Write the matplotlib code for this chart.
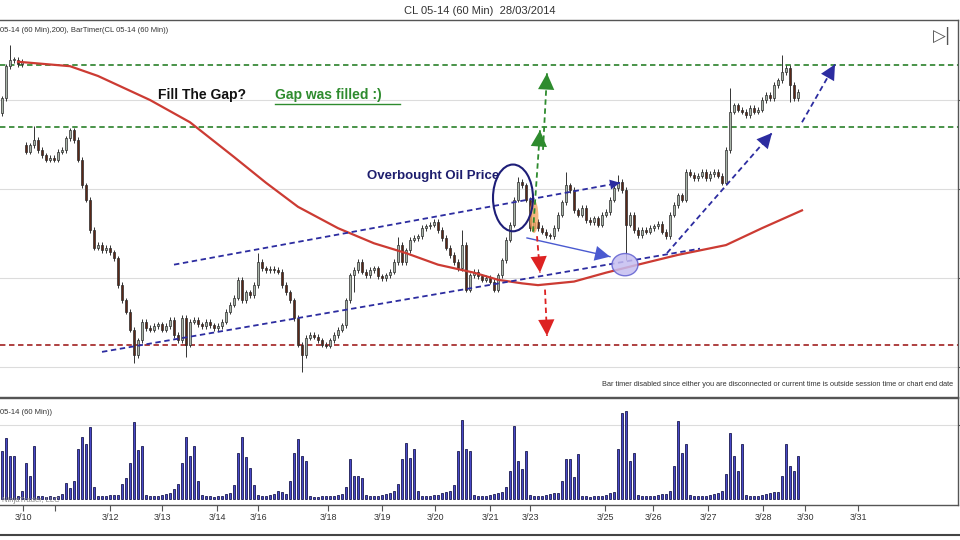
"""CL 05-14 60 min chart with gap / channel annotations"""

import numpy as np
import matplotlib
matplotlib.use('Agg')
import matplotlib.pyplot as plt
from matplotlib.patches import Ellipse
from matplotlib.lines import Line2D

plt.rcParams['font.family'] = ['Liberation Sans', 'DejaVu Sans']

# hourly closes (one value per plotted bar)
closes = [
    101.02, 101.38, 101.45, 101.45, 101.40, 101.43, 100.42, 100.49, 100.55, 100.44,
    100.38, 100.33, 100.35, 100.33, 100.42, 100.44, 100.57, 100.66, 100.55, 100.33,
    100.04, 99.88, 99.54, 99.34, 99.37, 99.31, 99.34, 99.29, 99.22, 98.92,
    98.75, 98.62, 98.42, 98.13, 98.30, 98.51, 98.44, 98.42, 98.46, 98.48,
    98.42, 98.46, 98.53, 98.36, 98.30, 98.55, 98.25, 98.51, 98.53, 98.48,
    98.46, 98.51, 98.47, 98.44, 98.46, 98.51, 98.62, 98.70, 98.78, 98.98,
    98.75, 98.84, 98.81, 98.92, 99.18, 99.11, 99.09, 99.10, 99.09, 99.07,
    98.92, 98.84, 98.75, 98.55, 98.25, 98.13, 98.33, 98.36, 98.34, 98.30,
    98.25, 98.24, 98.30, 98.36, 98.42, 98.47, 98.75, 99.03, 99.09, 99.18,
    99.07, 99.03, 99.09, 99.11, 99.02, 99.00, 99.03, 99.07, 99.18, 99.37,
    99.18, 99.31, 99.43, 99.45, 99.47, 99.56, 99.58, 99.60, 99.63, 99.54,
    99.45, 99.34, 99.26, 99.18, 99.11, 99.37, 98.87, 99.03, 99.07, 99.02,
    98.98, 99.00, 98.96, 98.87, 99.03, 99.20, 99.43, 99.60, 99.88, 100.08,
    100.04, 99.88, 99.56, 99.63, 99.56, 99.52, 99.48, 99.47, 99.56, 99.71,
    99.85, 100.04, 99.99, 99.76, 99.71, 99.79, 99.65, 99.63, 99.67, 99.60,
    99.71, 99.74, 99.88, 100.01, 100.08, 99.99, 99.60, 99.71, 99.54, 99.48,
    99.54, 99.52, 99.56, 99.58, 99.61, 99.52, 99.47, 99.71, 99.82, 99.93,
    99.88, 100.19, 100.16, 100.12, 100.15, 100.19, 100.12, 100.17, 100.19, 100.15,
    100.07, 100.44, 100.87, 100.94, 100.89, 100.87, 100.83, 100.91, 100.87, 100.89,
    101.00, 101.06, 101.02, 101.17, 101.22, 101.31, 101.36, 101.17, 101.02, 101.09,
]
# opens that do not follow the previous close (session gaps)
gap_opens = {0: 100.85, 6: 100.50}
# wick extremes that stick out
spike_highs = {2: 101.62, 8: 100.71, 64: 99.28, 99: 99.46, 115: 99.54, 129: 100.13,
               141: 100.19, 154: 100.16, 182: 101.13, 195: 101.51}
spike_lows = {33: 98.04, 46: 98.11, 75: 97.94, 88: 98.84, 123: 98.84, 156: 99.20, 197: 100.98}

# volume, hundreds of contracts
volume = [
    120, 152, 108, 108, 8, 20, 90, 58, 132, 8,
    8, 5, 8, 5, 8, 12, 40, 28, 45, 125,
    155, 138, 180, 30, 8, 8, 8, 10, 10, 10,
    38, 52, 90, 192, 122, 132, 10, 8, 8, 8,
    10, 12, 15, 25, 38, 90, 155, 108, 132, 45,
    10, 8, 8, 5, 8, 8, 12, 15, 35, 115,
    155, 105, 78, 35, 10, 8, 8, 10, 12, 20,
    18, 12, 45, 115, 150, 108, 95, 8, 5, 5,
    8, 8, 8, 8, 10, 12, 30, 100, 58, 58,
    52, 10, 8, 8, 8, 10, 12, 15, 20, 38,
    100, 140, 102, 125, 20, 8, 8, 8, 10, 10,
    15, 18, 20, 35, 120, 198, 125, 120, 10, 8,
    8, 8, 10, 12, 15, 18, 30, 70, 182, 95,
    75, 120, 10, 8, 8, 8, 10, 12, 15, 15,
    45, 100, 100, 55, 112, 8, 8, 5, 8, 8,
    8, 10, 15, 18, 125, 215, 220, 95, 115, 10,
    8, 8, 8, 8, 10, 12, 12, 20, 82, 195,
    115, 138, 10, 8, 8, 8, 8, 10, 12, 15,
    20, 62, 165, 108, 70, 138, 10, 8, 8, 8,
    10, 12, 15, 18, 18, 58, 138, 82, 70, 108,
]

# SMA(200)
ma_bars = [4, 17, 24, 37, 47, 58, 66, 74, 84, 93, 101, 109, 118, 124, 130, 134,
           143, 151, 159, 169, 181, 190, 200]
ma_vals = [101.43, 101.38, 101.27, 101.00, 100.75, 100.36, 100.07, 99.80, 99.56, 99.39,
           99.28, 99.15, 99.06, 98.98, 98.94, 98.92, 98.96, 99.06, 99.15, 99.26,
           99.37, 99.56, 99.76]

tick_bars = [5.25, 13.25, 27, 40, 53.75, 64, 81.5, 95, 108.25, 122, 132, 150.75,
             162.75, 176.5, 190.25, 200.75, 214]
tick_labels = ['3/10', '', '3/12', '3/13', '3/14', '3/16', '3/18', '3/19', '3/20',
               '3/21', '3/23', '3/25', '3/26', '3/27', '3/28', '3/30', '3/31']

gap_top, gap_bottom, support = 101.39, 100.70, 98.25
price_grid = [98, 99, 100, 101]

# ---- build OHLC ----
c = np.array(closes)
x = np.arange(len(c))
o = np.r_[c[0], c[:-1]]
for k, v in gap_opens.items():
    o[k] = v
wick = 0.03
h = np.maximum(o, c) + wick
l = np.minimum(o, c) - wick
for k, v in spike_highs.items():
    h[k] = v
for k, v in spike_lows.items():
    l[k] = v
up = c >= o

fig = plt.figure(figsize=(9.6, 5.4), dpi=100)
ax = fig.add_axes([0, 1 - 397 / 540, 958 / 960, 377 / 540])
axv = fig.add_axes([0, 1 - 505 / 540, 958 / 960, 107 / 540], sharex=ax)

edge = '#555555'
for a in (ax, axv):
    a.spines['left'].set_visible(False)
    for s in ('top', 'right', 'bottom'):
        a.spines[s].set_color(edge)
        a.spines[s].set_linewidth(1.0)
    a.set_facecolor('white')

# ---- price panel ----
ax.set_xlim(-0.5, 239)
ax.set_ylim(97.663, 101.899)
ax.set_yticks(price_grid)
ax.yaxis.tick_right()
ax.tick_params(axis='y', direction='out', length=4, color=edge, labelright=False)
ax.tick_params(axis='x', bottom=False, labelbottom=False)
ax.grid(axis='y', color='#dcdcdc', lw=0.8)
ax.set_axisbelow(True)

ax.axhline(gap_top, color='#3a8a3a', ls=(0, (3, 2)), lw=1.3, zorder=1)
ax.axhline(gap_bottom, color='#3a8a3a', ls=(0, (3, 2)), lw=1.3, zorder=1)
ax.axhline(support, color='#a83232', ls=(0, (3, 2)), lw=1.3, zorder=1)

ax.vlines(x, l, h, color='#333333', lw=0.7, zorder=3)
body_h = np.maximum(np.abs(c - o), 0.01)
ax.bar(x[up], body_h[up], bottom=np.minimum(o, c)[up], width=0.66,
       color='#a9b5a9', edgecolor='#2b2b2b', lw=0.5, zorder=4)
ax.bar(x[~up], body_h[~up], bottom=np.minimum(o, c)[~up], width=0.66,
       color='#5a2818', edgecolor='#2b2b2b', lw=0.5, zorder=4)

ax.plot(ma_bars, ma_vals, color='#cc3b33', lw=1.6, zorder=5)

blue = '#2c2ca0'


def dash_arrow(p0, p1, color, head=12, ls=(0, (3, 2)), lw=1.3):
    ax.plot([p0[0], p1[0]], [p0[1], p1[1]], ls=ls, color=color, lw=lw, zorder=6)
    back = (p1[0] - (p1[0] - p0[0]) * 0.25, p1[1] - (p1[1] - p0[1]) * 0.25)
    ax.annotate('', xy=p1, xytext=back,
                arrowprops=dict(arrowstyle='-|>,head_length=0.9,head_width=0.45',
                                color=color, lw=0, shrinkA=0, shrinkB=0,
                                mutation_scale=head), zorder=7)


# channel and projections
dash_arrow((43, 99.15), (154.5, 100.07), blue, head=8)
ax.plot([25, 174.5], [98.17, 99.33], ls=(0, (3, 2)), color=blue, lw=1.3, zorder=6)
dash_arrow((131.25, 99.45), (152, 99.24), '#4a5ad0', head=12, ls='-', lw=1.0)
dash_arrow((166.25, 99.28), (192.5, 100.63), blue, head=12)
dash_arrow((200, 100.75), (208.25, 101.40), blue, head=12)

dash_arrow((132.75, 99.52), (134.5, 100.66), '#2e8b2e', head=13)
dash_arrow((135.25, 100.44), (136.25, 101.30), '#2e8b2e', head=13)
dash_arrow((133.75, 99.47), (134.5, 99.06), '#dd2222', head=13)
dash_arrow((135.75, 98.87), (136.25, 98.35), '#dd2222', head=13)

ax.add_patch(Ellipse((127.75, 99.90), 10, 0.75, fill=False, ec='#1e1e78', lw=1.5, zorder=8))
ax.add_patch(Ellipse((155.75, 99.15), 6.5, 0.25, fc='#c5bdf0', ec='#6060d0',
                     lw=1.0, alpha=0.85, zorder=8))
ax.add_patch(Ellipse((133, 99.69), 2.2, 0.37, fc='#f4a460', ec='none', alpha=0.8, zorder=5))

ax.text(39, 101.06, 'Fill The Gap?', fontsize=10, fontweight='bold', color='#111111',
        va='center', ha='left', zorder=9)
ax.text(68.25, 101.06, 'Gap was filled :)', fontsize=10, fontweight='bold', color='#2e8b2e',
        va='center', ha='left', zorder=9)
ax.plot([68.25, 99.5], [100.955, 100.955], color='#2e8b2e', lw=1.0, zorder=9)
ax.text(91.25, 100.15, 'Overbought Oil Price', fontsize=9.5, fontweight='bold',
        color='#1e1e6e', va='center', ha='left', zorder=9)

ax.text(0.0, 0.973, '05-14 (60 Min),200), BarTimer(CL 05-14 (60 Min))', transform=ax.transAxes,
        fontsize=5.5, color='#333333', va='center', ha='left')
ax.text(0.995, 0.032, 'Bar timer disabled since either you are disconnected or current time is '
        'outside session time or chart end date', transform=ax.transAxes,
        fontsize=5.3, color='#333333', va='center', ha='right')
ax.text(0.983, 0.958, '\u25b7|', transform=ax.transAxes, fontsize=12, color='#555555',
        va='center', ha='center', family=['DejaVu Sans'])

# ---- volume panel ----
axv.set_ylim(-15, 252)
axv.set_yticks([185])
axv.yaxis.tick_right()
axv.tick_params(axis='y', direction='out', length=4, color=edge, labelright=False)
axv.grid(axis='y', color='#dcdcdc', lw=0.8)
axv.set_axisbelow(True)
axv.bar(x, volume, width=0.6, color='#4848c8', edgecolor='#1a1a50', lw=0.6, zorder=3)
axv.set_xticks(tick_bars)
axv.set_xticklabels(tick_labels)
axv.tick_params(axis='x', direction='out', length=4, color=edge, labelsize=6.5,
                labelcolor='#333333', pad=2)
axv.set_xlim(-0.5, 239)
axv.text(0.0, 0.869, '05-14 (60 Min))', transform=axv.transAxes, fontsize=5.5,
         color='#333333', va='center', ha='left')
axv.text(0.002, 0.04, 'NinjaTrader, LLC', transform=axv.transAxes, fontsize=5.5,
         color='#888888', va='center', ha='left', zorder=4)

fig.text(0.5, 1 - 11 / 540, 'CL 05-14 (60 Min)  28/03/2014', fontsize=8, color='#333333',
         ha='center', va='center')
fig.add_artist(Line2D([0, 1], [1 - 535 / 540] * 2, color='#444444', lw=1.5))

fig.savefig('out.png', dpi=100)
